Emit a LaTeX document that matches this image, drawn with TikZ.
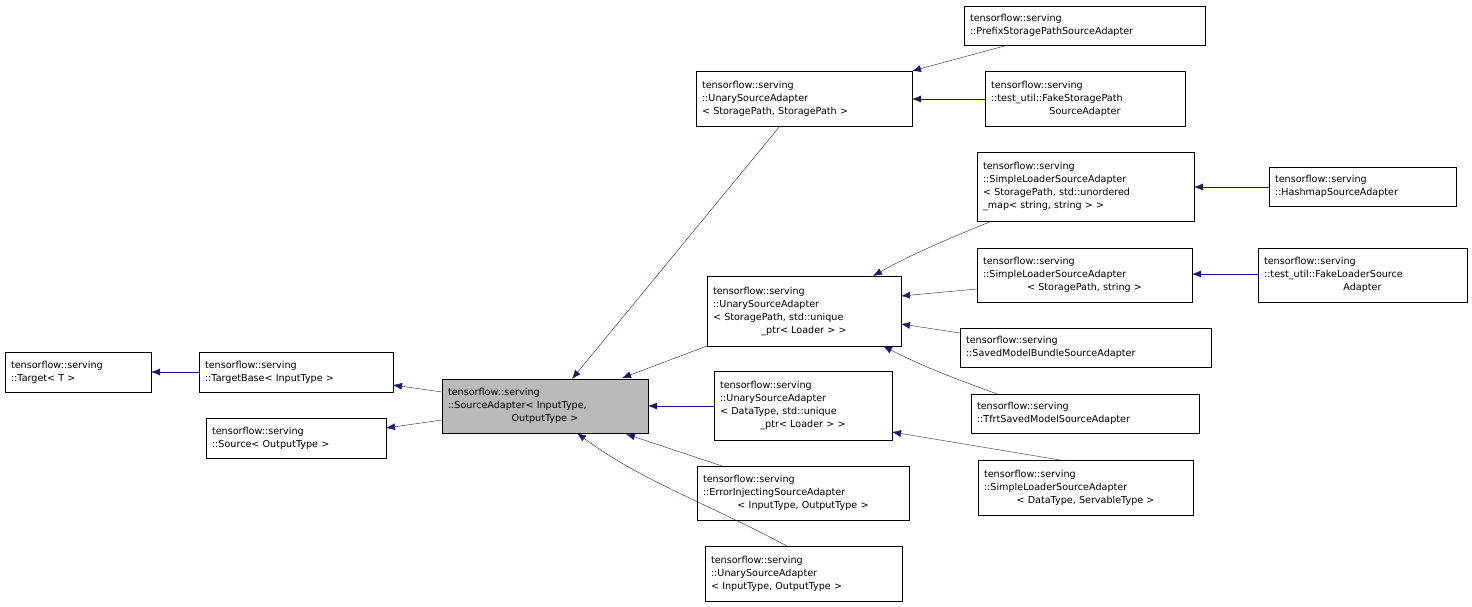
\documentclass[tikz,border=0pt]{standalone}
\usepackage{fontspec}
\setmainfont{DejaVu Sans}
\usetikzlibrary{arrows.meta}
\definecolor{edgeblue}{RGB}{25,25,112}
\tikzset{
  cls/.style={draw=black, fill=white, align=left, inner sep=0pt, outer sep=0pt,
    font=\fontsize{9.6}{13}\selectfont, anchor=north west},
  here/.style={cls, fill=black!27},
  inh/.style={draw=edgeblue, -{Latex[length=9pt,width=7pt]}}
}
\newcommand{\cls}[6][cls]{%
  \node[#1, minimum width=#4-#2, minimum height=#5, text width=#4-#2-20] (#6) at (#2,#3) {};}
\begin{document}
\begin{tikzpicture}[x=1pt,y=-1pt]
\useasboundingbox (0,0) rectangle (1472,607);
% class boxes
\node[cls, minimum width=146, minimum height=40, text width=134] (target) at (5,352) {tensorflow::serving\\::Target< T >};
\node[cls, minimum width=194, minimum height=40, text width=182] (targetbase) at (199,352) {tensorflow::serving\\::TargetBase< InputType >};
\node[cls, minimum width=180, minimum height=40, text width=168] (source) at (206,418) {tensorflow::serving\\::Source< OutputType >};
\node[here, minimum width=206, minimum height=54, text width=194] (adapter) at (442,379) {tensorflow::serving\\::SourceAdapter< InputType,\\\hfill OutputType >\hfill\hbox{}};
\node[cls, minimum width=216, minimum height=55, text width=204] (unaryss) at (696,71) {tensorflow::serving\\::UnarySourceAdapter\\< StoragePath, StoragePath >};
\node[cls, minimum width=194, minimum height=70, text width=182] (unarysl) at (707,276) {tensorflow::serving\\::UnarySourceAdapter\\< StoragePath, std::unique\\\hfill\_ptr< Loader > >\hfill\hbox{}};
\node[cls, minimum width=178, minimum height=69, text width=166] (unarydl) at (714,371) {tensorflow::serving\\::UnarySourceAdapter\\< DataType, std::unique\\\hfill\_ptr< Loader > >\hfill\hbox{}};
\node[cls, minimum width=212, minimum height=54, text width=200] (errinj) at (697,466) {tensorflow::serving\\::ErrorInjectingSourceAdapter\\\hfill< InputType, OutputType >\hfill\hbox{}};
\node[cls, minimum width=197, minimum height=55, text width=185] (unaryio) at (705,546) {tensorflow::serving\\::UnarySourceAdapter\\< InputType, OutputType >};
\node[cls, minimum width=241, minimum height=39, text width=229] (prefix) at (964,6) {tensorflow::serving\\::PrefixStoragePathSourceAdapter};
\node[cls, minimum width=200, minimum height=55, text width=188] (fakesp) at (985,71) {tensorflow::serving\\::test\_util::FakeStoragePath\\\hfill SourceAdapter\hfill\hbox{}};
\node[cls, minimum width=217, minimum height=69, text width=205] (simplemap) at (977,152) {tensorflow::serving\\::SimpleLoaderSourceAdapter\\< StoragePath, std::unordered\\\_map< string, string > >};
\node[cls, minimum width=215, minimum height=54, text width=203] (simplestr) at (977,248) {tensorflow::serving\\::SimpleLoaderSourceAdapter\\\hfill< StoragePath, string >\hfill\hbox{}};
\node[cls, minimum width=251, minimum height=39, text width=239] (savedmb) at (960,328) {tensorflow::serving\\::SavedModelBundleSourceAdapter};
\node[cls, minimum width=228, minimum height=39, text width=216] (tfrt) at (971,394) {tensorflow::serving\\::TfrtSavedModelSourceAdapter};
\node[cls, minimum width=215, minimum height=55, text width=203] (simpledt) at (978,460) {tensorflow::serving\\::SimpleLoaderSourceAdapter\\\hfill< DataType, ServableType >\hfill\hbox{}};
\node[cls, minimum width=187, minimum height=39, text width=175] (hashmap) at (1269,167) {tensorflow::serving\\::HashmapSourceAdapter};
\node[cls, minimum width=209, minimum height=54, text width=197] (fakeloader) at (1258,248) {tensorflow::serving\\::test\_util::FakeLoaderSource\\\hfill Adapter\hfill\hbox{}};
% inheritance arrows
\draw[inh] (targetbase.west) -- (target.east);
\draw[inh] (adapter.west |- 0,392) coordinate (a1) (442,392) -- (393,385);
\draw[inh] (442,420) -- (386,428);
\draw[inh] (780,126) -- (572,379);
\draw[inh] (707,346) -- (622,378);
\draw[inh] (714,406) -- (648,406);
\draw[inh] (722,466) -- (626,434);
\draw[inh] (787,546) .. controls (700,500) and (640,480) .. (577,433);
\draw[inh] (1008,45) -- (912,71);
\draw[inh] (985,99) -- (912,99);
\draw[inh] (992,221) .. controls (950,238) and (910,255) .. (873,276);
\draw[inh] (977,289) -- (901,296);
\draw[inh] (960,333) -- (901,324);
\draw[inh] (997,394) .. controls (960,380) and (930,370) .. (883,346);
\draw[inh] (1060,460) -- (892,432);
\draw[inh] (1269,187) -- (1194,187);
\draw[inh] (1258,274) -- (1192,274);
\end{tikzpicture}
\end{document}
